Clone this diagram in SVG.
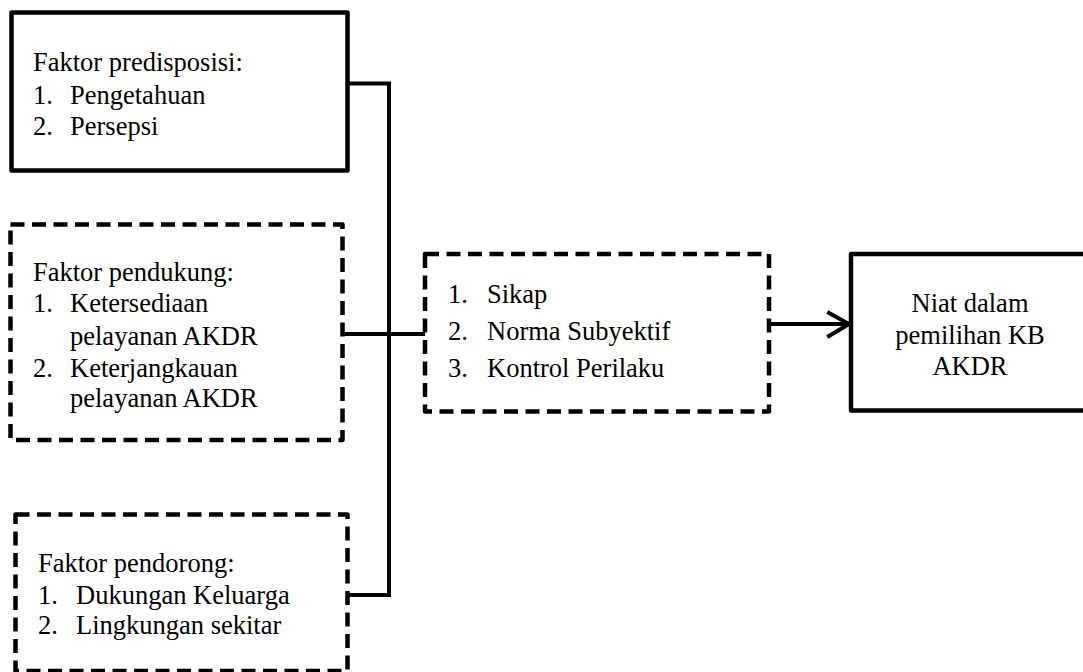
<svg xmlns="http://www.w3.org/2000/svg" width="1083" height="672" viewBox="0 0 1083 672">
<style>
.solid{fill:#fff;stroke:#000;stroke-width:4.5;stroke-linejoin:round}
.dash{fill:#fff;stroke:#000;stroke-width:4.5;stroke-dasharray:14 7.5;stroke-linejoin:round}
.t{font-family:"Liberation Serif","Times New Roman",serif;font-size:26.5px;fill:#000}
.c{text-anchor:middle}
.ln{fill:none;stroke:#000;stroke-width:4;stroke-linecap:square}
</style>
<rect width="1083" height="672" fill="#fff"/>
<g id="connectors">
<polyline class="ln" points="348,83.5 389,83.5 389,595 348,595"/>
<line class="ln" x1="343" y1="334" x2="424" y2="334"/>
<line class="ln" x1="770" y1="324" x2="847" y2="324"/>
<polyline class="ln" points="829,313 849,324 829,336" stroke-linejoin="miter" stroke-linecap="round"/>
</g>
<g id="n1">
<rect class="solid" x="11.5" y="12.5" width="336" height="158"/>
<text class="t" x="33" y="71">Faktor predisposisi:</text>
<text class="t" x="33" y="104">1.</text><text class="t" x="70" y="104">Pengetahuan</text>
<text class="t" x="33" y="135">2.</text><text class="t" x="70" y="135">Persepsi</text>
</g>
<g id="n2">
<rect class="dash" x="10.5" y="224.5" width="332" height="215.5"/>
<text class="t" x="33" y="281">Faktor pendukung:</text>
<text class="t" x="33" y="312">1.</text><text class="t" x="70" y="312">Ketersediaan</text>
<text class="t" x="70" y="345">pelayanan AKDR</text>
<text class="t" x="33" y="377">2.</text><text class="t" x="70" y="377">Keterjangkauan</text>
<text class="t" x="70" y="407">pelayanan AKDR</text>
</g>
<g id="n3">
<rect class="dash" x="15.5" y="514.5" width="332" height="156.5"/>
<text class="t" x="38" y="572">Faktor pendorong:</text>
<text class="t" x="38" y="604">1.</text><text class="t" x="76" y="604">Dukungan Keluarga</text>
<text class="t" x="38" y="634">2.</text><text class="t" x="76" y="634">Lingkungan sekitar</text>
</g>
<g id="n4">
<rect class="dash" x="425" y="254" width="344" height="157.5"/>
<text class="t" x="448" y="303">1.</text><text class="t" x="487" y="303">Sikap</text>
<text class="t" x="448" y="340">2.</text><text class="t" x="487" y="340">Norma Subyektif</text>
<text class="t" x="448" y="377">3.</text><text class="t" x="487" y="377">Kontrol Perilaku</text>
</g>
<g id="n5">
<rect class="solid" x="851" y="254" width="250" height="156.5"/>
<text class="t c" x="970" y="312">Niat dalam</text>
<text class="t c" x="970" y="344">pemilihan KB</text>
<text class="t c" x="970" y="375">AKDR</text>
</g>
</svg>
